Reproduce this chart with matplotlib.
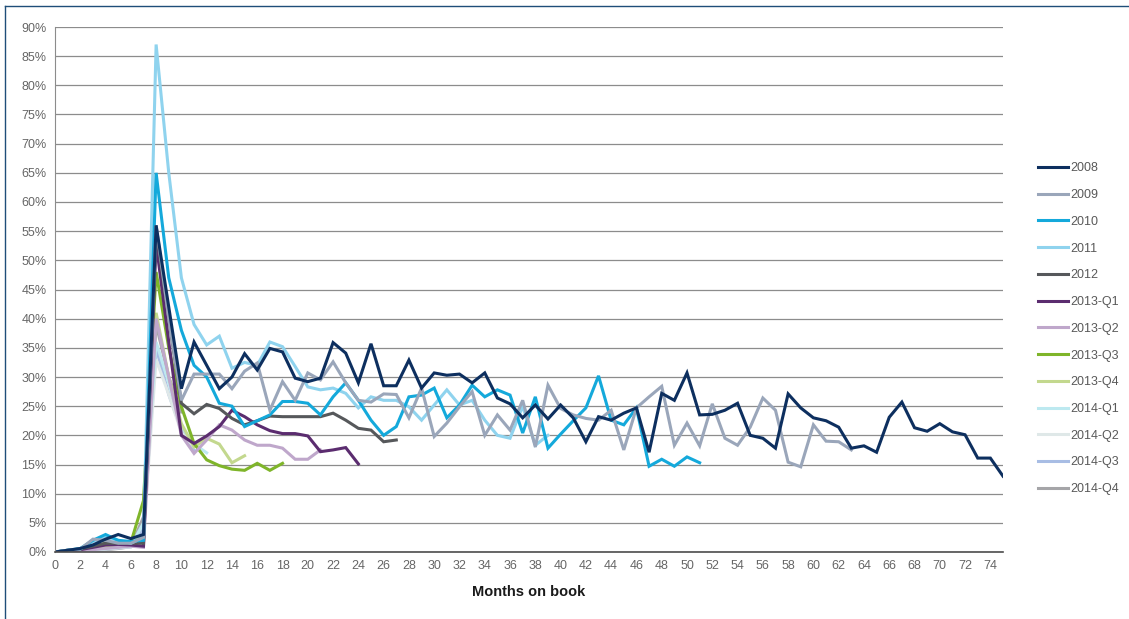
import matplotlib
matplotlib.use("Agg")
import matplotlib.pyplot as plt
from matplotlib.lines import Line2D

plt.rcParams['font.family'] = ['Liberation Sans', 'DejaVu Sans']

months_label = "Months on book"
series_names = ["2008", "2009", "2010", "2011", "2012", "2013-Q1", "2013-Q2",
                "2013-Q3", "2013-Q4", "2014-Q1", "2014-Q2", "2014-Q3", "2014-Q4"]

s2008 = [0, 0.3, 0.6, 1.2, 2.2, 3.0, 2.3, 3.0, 56, 42, 28, 36, 32, 28, 30, 34, 31.2, 34.9, 34.3,
         29.8, 29.2, 29.8, 35.9, 34.1, 29.0, 35.7, 28.5, 28.5, 32.9, 28.1, 30.7, 30.3, 30.5,
         29.0, 30.7, 26.4, 25.4, 23.0, 25.2, 22.8, 25.2, 23.0, 18.9, 23.2, 22.6, 23.8, 24.7,
         17.1, 27.2, 26.0, 30.7, 23.5, 23.6, 24.3, 25.5, 20.0, 19.5, 17.8, 27.1, 24.7, 23.0,
         22.5, 21.4, 17.8, 18.2, 17.1, 23.1, 25.7, 21.3, 20.7, 22.0, 20.6, 20.1, 16.1, 16.1, 13.0]
s2009 = [0, 0.3, 0.5, 2.2, 2.0, 1.5, 1.5, 2.5, 56, 40, 26, 30.5, 30.5, 30.5, 28, 31, 32.4, 24.3,
         29.2, 26.0, 30.7, 29.5, 32.6, 29.0, 26.0, 25.7, 27.1, 27.0, 23.0, 28.1, 19.8, 22.1,
         24.9, 27.5, 20.0, 23.5, 20.9, 26.0, 18.0, 28.6, 24.6, 23.5, 22.9, 22.6, 24.3, 17.5,
         24.7, 26.6, 28.4, 18.3, 22.1, 18.2, 25.4, 19.5, 18.3, 21.4, 26.4, 24.3, 15.4, 14.6,
         21.8, 19.0, 18.9, 17.5]
s2010 = [0, 0.3, 0.6, 2.0, 3.0, 2.0, 1.8, 2.0, 65, 47, 38, 32, 30, 25.5, 25, 21.5, 22.5, 23.5,
         25.8, 25.8, 25.5, 23.5, 26.6, 29.0, 26.0, 22.6, 20.0, 21.5, 26.6, 26.9, 28.1, 23.0,
         25.2, 28.6, 26.6, 27.8, 26.9, 20.4, 26.6, 17.8, 20.2, 22.5, 24.7, 30.2, 22.6, 21.8,
         24.7, 14.7, 15.9, 14.7, 16.3, 15.3]
s2011 = [0, 0.3, 0.5, 1.8, 2.5, 2.0, 1.5, 2.5, 87, 65, 47, 39, 35.5, 37, 31.5, 32.5, 32, 36,
         35.2, 31.8, 28.3, 27.8, 28.1, 27.2, 24.7, 26.6, 26.0, 26.0, 24.9, 22.6, 25.2, 27.8,
         25.2, 26.0, 22.6, 20.0, 19.5, 25.0, 18.3, 20.0]
s2012 = [0, 0.3, 0.5, 1.0, 1.5, 1.5, 1.5, 1.5, 55, 40, 25.5, 23.7, 25.3, 24.6, 22.9, 21.8, 22.5,
         23.3, 23.2, 23.2, 23.2, 23.2, 23.8, 22.6, 21.2, 20.9, 18.9, 19.2]
s2013q1 = [0, 0.2, 0.4, 0.8, 1.2, 1.3, 1.2, 1.0, 53, 36, 20, 18.6, 19.9, 21.5, 24.3, 23.2, 21.8,
           20.8, 20.3, 20.3, 19.9, 17.2, 17.5, 17.9, 15.1]
s2013q2 = [0, 0.1, 0.2, 0.4, 0.6, 0.8, 1.0, 0.8, 40, 30, 20, 16.9, 19.2, 21.8, 20.9, 19.2, 18.3,
           18.3, 17.8, 15.9, 15.9, 17.5]
s2013q3 = [0, 0.2, 0.4, 0.8, 1.5, 1.5, 1.6, 8.8, 48, 35, 24.9, 18.6, 15.8, 14.8, 14.2, 14.0,
           15.2, 14.0, 15.2]
s2013q4 = [0, 0.1, 0.3, 0.6, 1.0, 1.2, 1.2, 3.0, 41, 30, 22, 18, 19.5, 18.5, 15.3, 16.5]
s2014q1 = [0, 0.1, 0.2, 0.4, 0.6, 0.8, 1.0, 5.0, 36, 29, 21.5, 18.5, 17]
s2014q2 = [0, 0.1, 0.2, 0.3, 0.5, 0.7, 0.9, 3.0, 33, 27, 20.5, 18]
s2014q3 = [0, 0.1, 0.2, 0.3, 0.5, 0.7, 0.9, 4.0, 35, 27, 21, 17.5]
s2014q4 = [0, 0.1, 0.2, 0.3, 0.4, 0.6, 0.9, 6.0, 39, 30, 24]

series_values = [s2008, s2009, s2010, s2011, s2012, s2013q1, s2013q2, s2013q3, s2013q4,
                 s2014q1, s2014q2, s2014q3, s2014q4]
colors = ["#0d2f5f", "#9aa6ba", "#14a9db", "#8fd3ee", "#56585b", "#5b2c6f", "#bfa7cb",
          "#7fb52a", "#c3d88e", "#bde9f0", "#dfe8e8", "#a8bde4", "#a5a5a8"]

y_ticks = list(range(0, 91, 5))
x_ticks = list(range(0, 75, 2))

fig = plt.figure(figsize=(11.29, 6.19), dpi=100)
ax = fig.add_axes([55 / 1129, 1 - 552 / 619, (1003 - 55) / 1129, (552 - 27) / 619])

# draw in reverse so 2008 is on top
for name, vals, c in reversed(list(zip(series_names, series_values, colors))):
    ax.plot(range(len(vals)), vals, color=c, lw=2.2, solid_joinstyle='miter', label=name)

ax.set_xlim(0, 75)
ax.set_ylim(0, 90)
ax.set_yticks(y_ticks)
ax.set_yticklabels([f"{v}%" for v in y_ticks])
ax.set_xticks(x_ticks)
ax.set_xticklabels([str(v) for v in x_ticks])
ax.yaxis.grid(True, color="#8c8c8c", lw=0.9)
ax.set_axisbelow(True)
for sp in ["top", "right"]:
    ax.spines[sp].set_visible(False)
ax.spines["left"].set_color("#8c8c8c")
ax.spines["bottom"].set_color("#4d4d4d")
ax.spines["bottom"].set_linewidth(1.2)
ax.tick_params(axis='both', length=0, labelsize=9, colors="#666666", pad=6)
ax.set_xlabel(months_label, fontsize=10.5, fontweight='bold', color="#1a1a1a", labelpad=9)

handles = [Line2D([0], [0], color=c, lw=2.2) for c in colors]
leg = fig.legend(handles, series_names, loc='upper left', bbox_to_anchor=(1027 / 1129, 1 - 151 / 619),
                 frameon=False, fontsize=9, handlelength=2.4, handletextpad=0.15,
                 labelspacing=1.18, labelcolor="#595959")

# outer border
fig.add_artist(Line2D([5 / 1129, 5 / 1129], [0, 1 - 6 / 619], transform=fig.transFigure,
                      color="#1f4e79", lw=1))
fig.add_artist(Line2D([5 / 1129, 1], [1 - 6 / 619, 1 - 6 / 619], transform=fig.transFigure,
                      color="#1f4e79", lw=1))

fig.savefig("out.png", dpi=100)
